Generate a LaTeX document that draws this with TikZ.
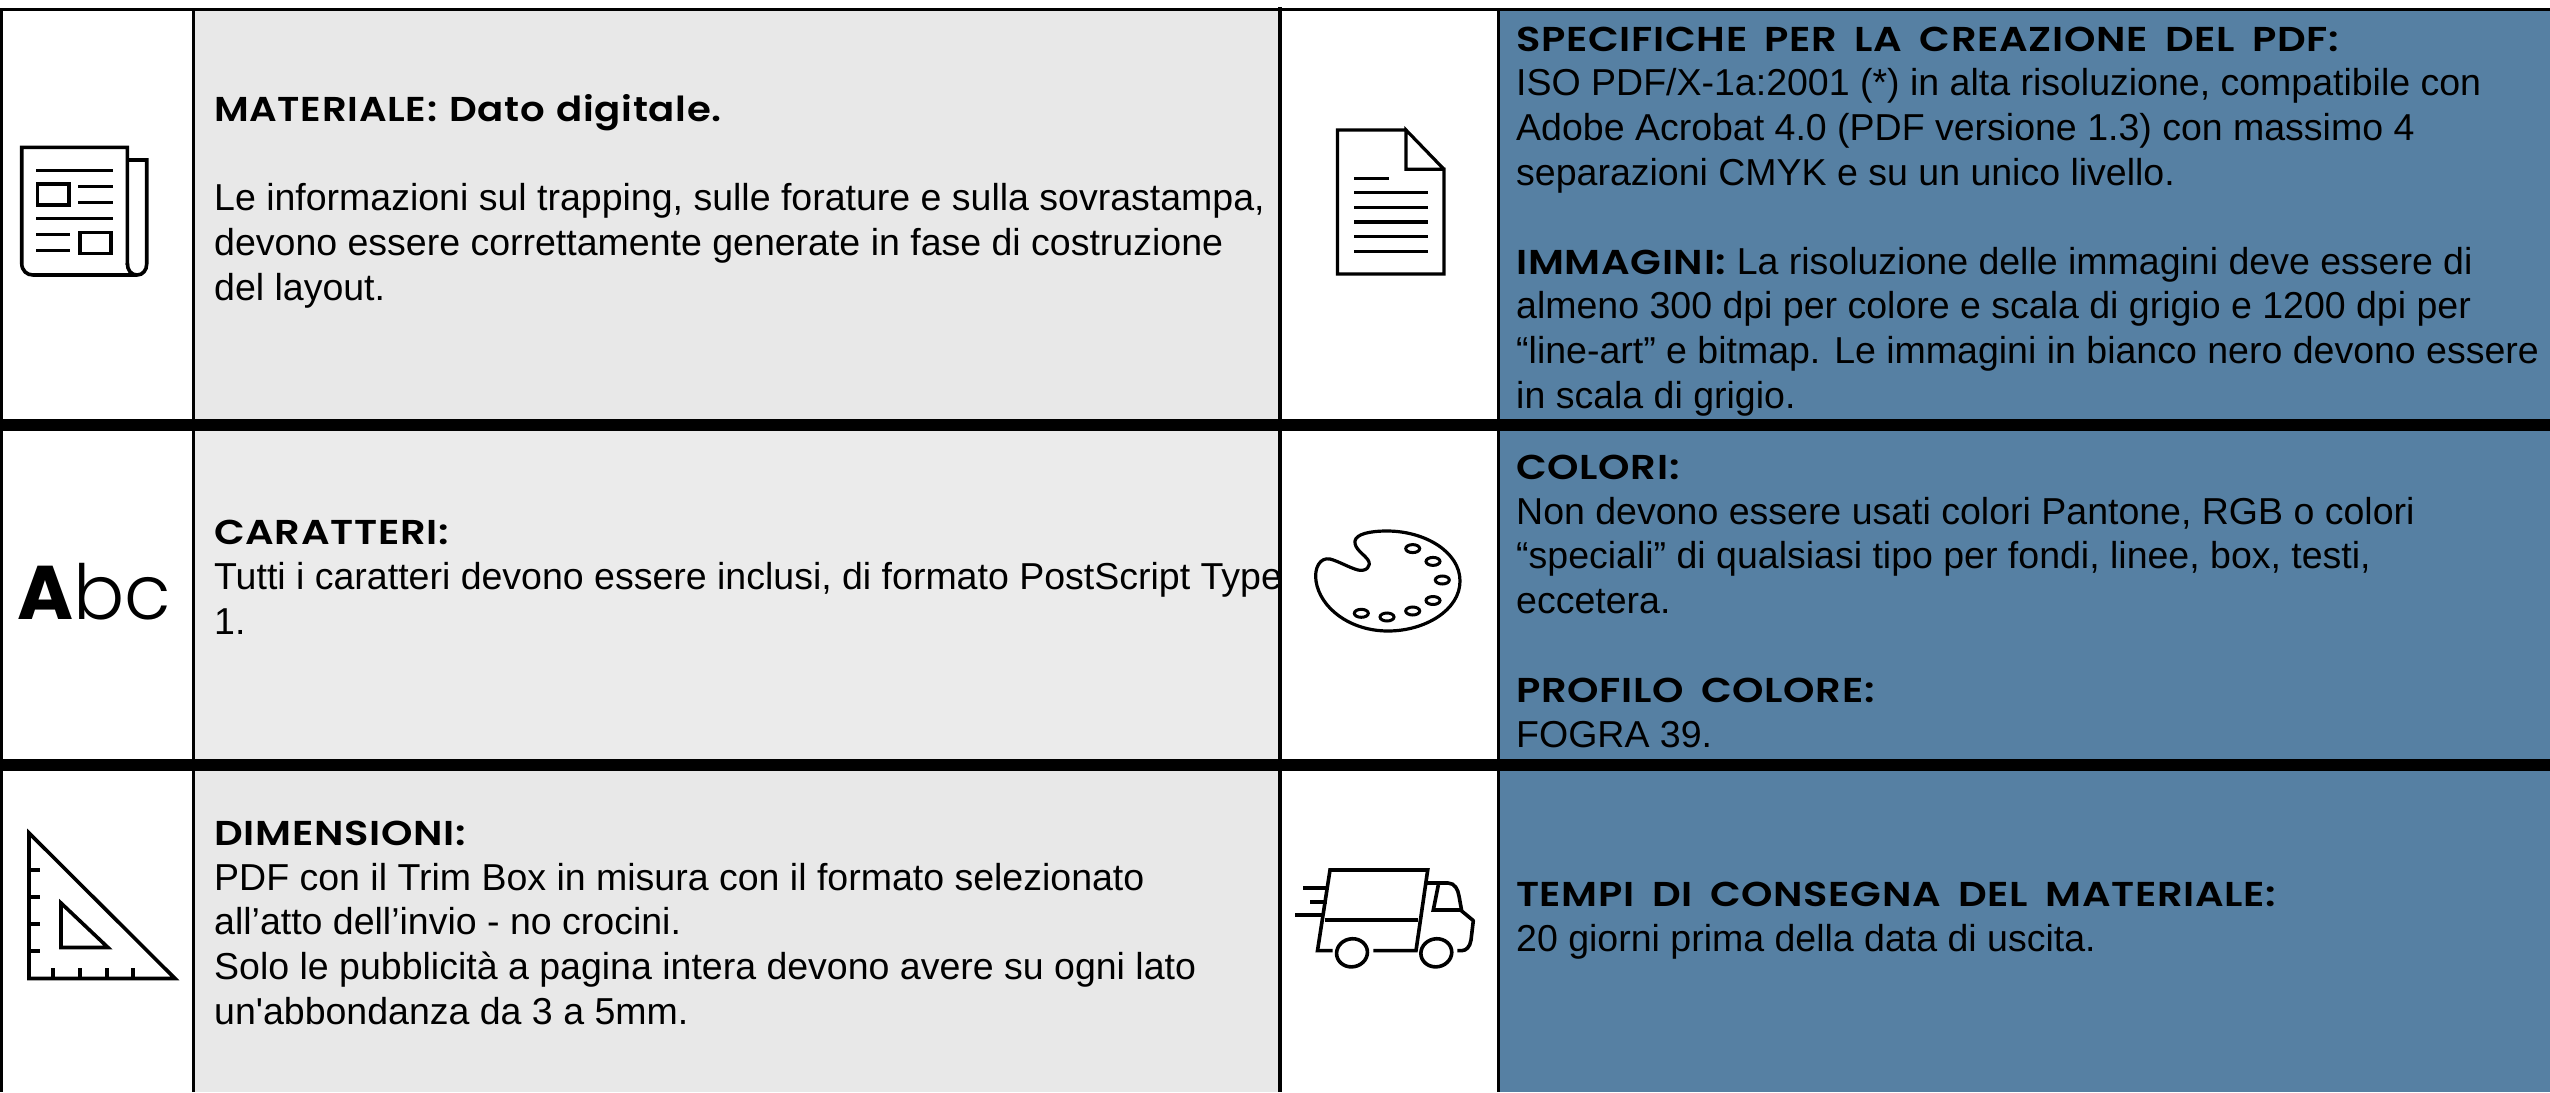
\documentclass[tikz,border=0pt]{standalone}
\usepackage{fontspec}
\setmainfont{Liberation Sans}
\newfontfamily\plainf{Liberation Sans}
\newfontfamily\headf{Poppins SemiBold}[FakeStretch=1.16,LetterSpace=2,WordSpace=1.7]
\newfontfamily\headg{Poppins SemiBold}[FakeStretch=1.12,LetterSpace=2,WordSpace=1.2]
\newfontfamily\abclight{Poppins Light}
\newfontfamily\abcbold{Poppins}[BoldFont=* Bold]
\definecolor{panelblue}{HTML}{5680A3}
\definecolor{greyA}{HTML}{E8E8E8}
\definecolor{greyB}{HTML}{EBEBEB}
\newcommand\hd[1]{{\headf\fontsize{34.5}{44.6}\selectfont #1}}
\newcommand\hdg[1]{{\headg\fontsize{34.5}{44.6}\selectfont #1}}
\tikzset{
  cell/.style={anchor=base west,inner sep=0pt,align=left,text=black,font=\fontsize{37.5}{44.6}\selectfont},
  rule/.style={draw=black,line width=3pt},
  heavy/.style={draw=black,line width=12pt},
  icon/.style={draw=black,line width=3.6pt,fill=none,line join=miter},
  thin icon/.style={draw=black,line width=3.6pt,fill=none,line cap=round,line join=round},
}
\begin{document}
\begin{tikzpicture}[x=1pt,y=-1pt]
\useasboundingbox (0,0) rectangle (2550,1092);
% backgrounds
\fill[white] (0,0) rectangle (2550,1092);
\fill[greyA] (193,10) rectangle (1280,425);
\fill[greyB] (193,425) rectangle (1280,765);
\fill[greyA] (193,765) rectangle (1280,1092);
\fill[panelblue] (1498,10) rectangle (2550,1092);
% grid
\draw[rule] (0,9.5) -- (2550,9.5);
\draw[rule] (1,9) -- (1,1092);
\draw[rule] (193,9) -- (193,1092);
\draw[rule,line width=3.6pt] (1280,7) -- (1280,1092);
\draw[rule] (1498,9) -- (1498,1092);
\draw[heavy] (0,425) -- (2550,425);
\draw[heavy] (0,765) -- (2550,765);
% texts
\node[cell] (material) at (214,300) {\hdg{MATERIALE: Dato digitale.}\\[44.6pt]
Le informazioni sul trapping, sulle forature e sulla sovrastampa,\\
devono essere correttamente generate in fase di costruzione\\
del layout.};
\node[cell] (caratteri) at (214,634) {\hd{CARATTERI:}\\
Tutti i caratteri devono essere inclusi, di formato PostScript Type\\
1.};
\node[cell] (dimensioni) at (214,1024) {\hd{DIMENSIONI:}\\
PDF con il Trim Box in misura con il formato selezionato\\
all’atto dell’invio - no crocini.\\
Solo le pubblicità a pagina intera devono avere su ogni lato\\
un{\plainf '}abbondanza da 3 a 5mm.};
\node[cell] (specifiche) at (1516,408) {\hd{SPECIFICHE PER LA CREAZIONE DEL PDF:}\\
ISO PDF/X-1a:2001 (*) in alta risoluzione, compatibile con\\
Adobe Acrobat 4.0 (PDF versione 1.3) con massimo 4\\
separazioni CMYK e su un unico livello.\\[44.6pt]
\hd{IMMAGINI:} La risoluzione delle immagini deve essere di\\
almeno 300 dpi per colore e scala di grigio e 1200 dpi per\\
“line-art” e bitmap. Le immagini in bianco nero devono essere\\
in scala di grigio.};
\node[cell] (colori) at (1516,747) {\hd{COLORI:}\\
Non devono essere usati colori Pantone, RGB o colori\\
“speciali” di qualsiasi tipo per fondi, linee, box, testi,\\
eccetera.\\[44.6pt]
\hd{PROFILO COLORE:}\\
FOGRA 39.};
\node[cell] (tempi) at (1516,951) {\hd{TEMPI DI CONSEGNA DEL MATERIALE:}\\
20 giorni prima della data di uscita.};
% Abc
\node[anchor=base west,inner sep=0pt,font=\fontsize{76}{76}\selectfont] (abc) at (17,619) {{\abcbold\bfseries A}{\abclight bc}};
% newspaper
\draw[icon] (127.3,265) -- (127.3,147.3) -- (21.7,147.3) -- (21.7,263) .. controls (21.7,271) and (27,275) .. (33,275) -- (137,275) .. controls (143,275) and (146.7,270) .. (146.7,264) -- (146.7,160) -- (127.3,160);
\draw[icon] (127.3,263) .. controls (127.3,270) and (131,275) .. (137,275);
\draw[icon] (36,170.3) -- (112.7,170.3) (78.3,186.3) -- (112.7,186.3) (78.3,202.3) -- (112.7,202.3) (36,218.3) -- (112.7,218.3) (36,234.3) -- (70,234.3) (36,250.3) -- (70,250.3);
\draw[icon] (37.5,184) rectangle (69,205);
\draw[icon] (80,232.5) rectangle (111,253.5);
% set square
\draw[icon] (29,833) -- (175,978.5) -- (29,978.5) -- cycle;
\draw[icon] (29,870) -- (40,870) (29,897) -- (40,897) (29,924) -- (40,924) (29,951) -- (40,951);
\draw[icon] (53,979) -- (53,968) (80,979) -- (80,968) (107,979) -- (107,968) (133,979) -- (133,968);
\draw[icon] (61,903) -- (108,947.5) -- (61,947.5) -- cycle;
% document
\draw[icon,line width=3.2pt] (1406,130) -- (1337.5,130) -- (1337.5,274) -- (1444,274) -- (1444,169.3) -- (1406,169.3) -- (1406,130) -- (1444,169.3);
\draw[icon,line width=3.2pt] (1354.3,178.3) -- (1389,178.3) (1354.3,192.7) -- (1427.7,192.7) (1354.3,207.3) -- (1427.7,207.3) (1354.3,222) -- (1427.7,222) (1354.3,236.7) -- (1427.7,236.7) (1354.3,251.5) -- (1427.7,251.5);
% palette
\draw[thin icon,line width=3.2pt] (1316,581) .. controls (1314,568) and (1320,557) .. (1330,559) .. controls (1338,561) and (1350,568) .. (1358,570) .. controls (1366,572) and (1372,566) .. (1368,560) .. controls (1364,554) and (1354,549) .. (1355,541) .. controls (1356,534) and (1370,531) .. (1387,531) .. controls (1425,531) and (1460,552) .. (1460,581) .. controls (1460,610) and (1425,631) .. (1388,631) .. controls (1350,631) and (1320,608) .. (1316,581) -- cycle;
\foreach \p in {(1412.7,548.6),(1433,561.4),(1442.3,580),(1433,600.5),(1412.7,611),(1387,617),(1361.3,613.3)}
  \draw[icon,line width=3pt] \p ellipse (7pt and 4pt);
% truck
\draw[thin icon,line cap=butt,line join=miter] (1332.7,950.6) -- (1317.5,950.6) -- (1330,870) -- (1427.7,870) -- (1416,950.6) -- (1373.3,950.6);
\draw[thin icon,line cap=butt] (1325,920) -- (1418.3,920);
\draw[thin icon,rotate around={12:(1352,952.8)}] (1352,952.8) ellipse (15.5pt and 14pt);
\draw[thin icon,rotate around={12:(1436.3,952.8)}] (1436.3,952.8) ellipse (15.5pt and 14pt);
\draw[thin icon,line cap=butt] (1427,883) -- (1448,883) .. controls (1455,883) and (1458,890) .. (1459,896) -- (1461.7,911) -- (1473.3,920.6) -- (1471,940) .. controls (1470,947) and (1466,950.6) .. (1462,950.6) -- (1457.3,950.6);
\draw[thin icon,line cap=butt,line join=miter] (1438.3,885) -- (1433.3,910) -- (1461.7,910);
\draw[thin icon,line cap=butt] (1303.3,888) -- (1328.3,888) (1310,902) -- (1326.7,902) (1295,915) -- (1323.3,915);
\end{tikzpicture}
\end{document}
